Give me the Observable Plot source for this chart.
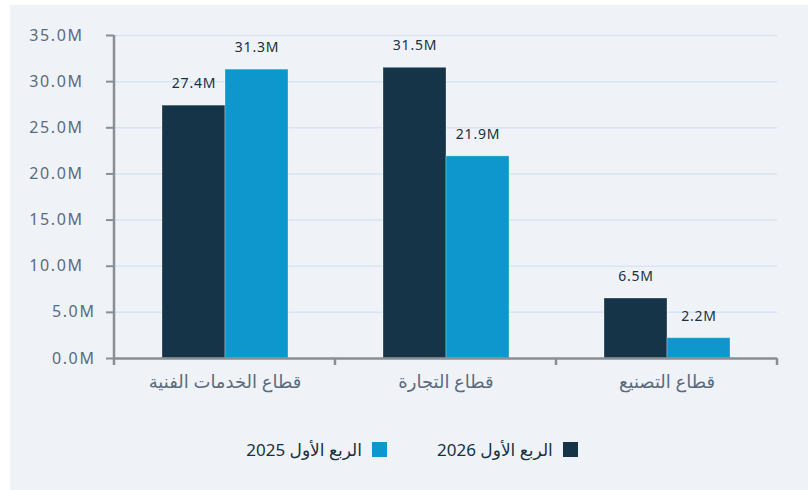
<!DOCTYPE html>
<html lang="ar">
<head>
<meta charset="utf-8">
<script src="https://cdn.jsdelivr.net/npm/d3@7"></script>
<script src="https://cdn.jsdelivr.net/npm/@observablehq/plot@0.6"></script>
<style>
  html, body { margin: 0; padding: 0; background: #ffffff; }
  body { width: 808px; height: 490px; position: relative; overflow: hidden; font-family: "Noto Sans", "DejaVu Sans", sans-serif; }
  #panel { position: absolute; left: 10px; top: 5px; width: 798px; height: 485px; background: #eff3f8; }
  #panel svg { display: block; background: transparent; }
  .ytick text { letter-spacing: 1.6px; }
  .vlabel text { letter-spacing: 0.8px; }
  #legend { direction: rtl; display: flex; justify-content: center; align-items: center; gap: 50px; margin-top: 38px; font-size: 17px; color: #1b2f42; padding-left: 6px; }
  #legend .item { display: flex; align-items: center; gap: 10px; }
  #legend .sw { width: 15px; height: 15px; display: inline-block; }
</style>
</head>
<body>
<div id="panel"></div>
<script>
// ---- data ----
const categories = ["قطاع الخدمات الفنية", "قطاع التجارة", "قطاع التصنيع"];
const seriesNames = ["الربع الأول 2026", "الربع الأول 2025"];
const values2026 = [27.4, 31.5, 6.5];
const values2025 = [31.3, 21.9, 2.2];
const seriesColors = ["#163447", "#0e97cc"];
const yTicksSmall = [0, 5];
const yTicksLarge = [10, 15, 20, 25, 30, 35];

const rows = [];
categories.forEach((c, i) => {
  rows.push({category: c, series: seriesNames[0], value: values2026[i]});
  rows.push({category: c, series: seriesNames[1], value: values2025[i]});
});

const fmt = d => d.toFixed(1) + "M";
const axisColor = "#8a8f94";
const tickTextColor = "#5b6b7d";

const chart = Plot.plot({
  width: 798,
  height: 395,
  marginLeft: 103,
  marginRight: 30,
  marginTop: 30,
  marginBottom: 42,
  style: {fontFamily: '"Noto Sans", "DejaVu Sans", sans-serif', background: "transparent"},
  fx: {domain: categories, padding: 0, label: null},
  x: {domain: seriesNames, paddingInner: 0, paddingOuter: 0.745, axis: null},
  y: {domain: [0, 35], label: null},
  color: {domain: seriesNames, range: seriesColors},
  marks: [
    Plot.gridY(yTicksSmall.concat(yTicksLarge), {stroke: "#d8e5f3", strokeOpacity: 1, strokeWidth: 1.5}),
    Plot.barY(rows, {fx: "category", x: "series", y: "value", fill: "series", stroke: "#ffffff", strokeOpacity: 0.3, strokeWidth: 1}),
    Plot.text(rows, {fx: "category", x: "series", y: "value", text: d => d.value.toFixed(1) + "M", dy: -22, fontSize: 14, fill: "#1b2f42", className: "vlabel"}),
    Plot.ruleY([0], {stroke: axisColor, strokeWidth: 2.5}),
    Plot.axisY(yTicksLarge, {tickSize: 8, tickPadding: 23, tickFormat: fmt, fontSize: 16, fill: tickTextColor, stroke: axisColor, strokeWidth: 2, className: "ytick"}),
    Plot.axisY(yTicksSmall, {tickSize: 8, tickPadding: 11, tickFormat: fmt, fontSize: 16, fill: tickTextColor, stroke: axisColor, strokeWidth: 2, className: "ytick"}),
    Plot.axisFx({anchor: "bottom", tickSize: 0, tickPadding: 17, fontSize: 18, fill: tickTextColor, label: null})
  ]
});

// Axis line and category boundary ticks, placed with the chart's own scales
const fx = chart.scale("fx");
const y = chart.scale("y");
const svg = d3.select(chart);
const left = fx.apply(categories[0]);
const right = fx.apply(categories[categories.length - 1]) + fx.bandwidth;
const y0 = y.apply(0);
const yTop = y.apply(35);
const g = svg.append("g").attr("stroke", axisColor).attr("stroke-width", 2.5);
g.append("line").attr("x1", left).attr("x2", left).attr("y1", yTop).attr("y2", y0 + 7);
const bounds = categories.map(c => fx.apply(c)).concat([right]);
bounds.slice(1).forEach(bx => {
  g.append("line").attr("x1", bx).attr("x2", bx).attr("y1", y0).attr("y2", y0 + 7);
});

const panel = document.getElementById("panel");
panel.appendChild(chart);

// Legend below the SVG
const legend = document.createElement("div");
legend.id = "legend";
seriesNames.forEach((s, i) => {
  const item = document.createElement("div");
  item.className = "item";
  const sw = document.createElement("span");
  sw.className = "sw";
  sw.style.background = seriesColors[i];
  const label = document.createElement("span");
  label.textContent = s;
  item.appendChild(sw);
  item.appendChild(label);
  legend.appendChild(item);
});
panel.appendChild(legend);
</script>
</body>
</html>
